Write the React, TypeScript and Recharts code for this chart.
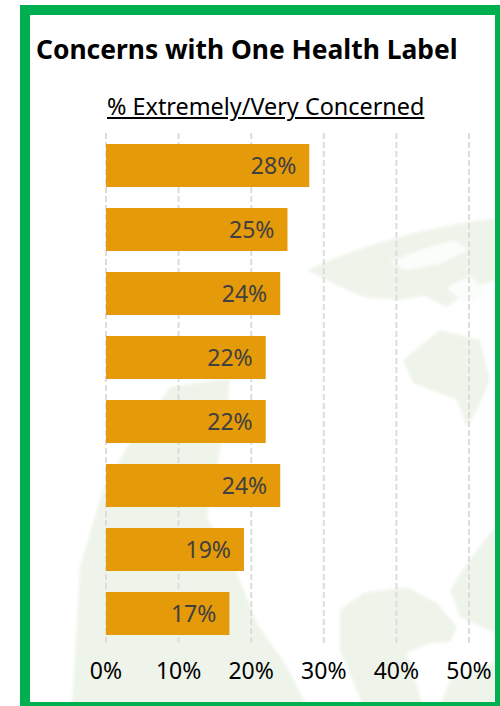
import React from "react";
import { BarChart, Bar, XAxis, YAxis, CartesianGrid, LabelList } from "recharts";

// one row per concern, top to bottom (the picture has no category labels)
const rows = ["a", "b", "c", "d", "e", "f", "g", "h"];
const concerned = [28, 25, 24, 22, 22, 24, 19, 17];
const xTicks = [0, 10, 20, 30, 40, 50];

const data = rows.map((row, i) => ({ row, concerned: concerned[i] }));

const FONT = "'Noto Sans', sans-serif";
const pct = (v: number) => `${v}%`;

// faint world map behind the chart
const Watermark = () => (
  <svg width={500} height={706} style={{ position: "absolute", left: 0, top: 0 }}>
    <defs>
      <filter id="soft">
        <feGaussianBlur stdDeviation="1.5" />
      </filter>
    </defs>
    <g fill="#eef4ea" filter="url(#soft)">
      <path d="M307 270 Q390 232 495 218 L495 280 L470 290 L447 307 L425 296 L400 300 L363 297 L330 282 Z" />
      <path d="M403 360 L440 330 L480 340 L490 380 L478 408 L467 427 L457 400 L413 383 Z" />
      <path d="M72 706 L80 567 L102 493 L127 447 L170 387 L230 378 L227 413 L217 467 L207 517 L237 573 L257 623 L287 667 L307 706 Z" />
      <path d="M340 610 L363 593 L407 587 L437 603 L457 627 L450 642 L430 643 L407 653 L423 706 L363 706 L340 650 Z" />
      <path d="M450 590 L467 563 L495 527 L495 633 L460 617 Z" />
      <path d="M450 680 L495 662 L495 706 L440 706 Z" />
    </g>
    <g fill="#fbfdfa" filter="url(#soft)">
      <path d="M390 262 L420 250 L455 240 L468 250 L440 264 L405 270 Z" />
      <path d="M446 288 L470 276 L488 292 L470 306 Z" />
    </g>
  </svg>
);

export default function App() {
  return (
    <div style={{ position: "absolute", left: 0, top: 0, width: 500, height: 706, overflow: "hidden", background: "#fff" }}>
      <Watermark />
      <div
        style={{
          position: "absolute",
          left: 20,
          top: 5,
          width: 465,
          height: 687,
          border: "10px solid #00b050",
          borderRightWidth: 5,
          borderBottomWidth: 4,
        }}
      />
      <div style={{ position: "absolute", left: 36, top: 31, fontFamily: FONT, fontWeight: 700, fontSize: 26.4, color: "#000", whiteSpace: "nowrap" }}>
        Concerns with One Health Label
      </div>
      <div style={{ position: "absolute", left: 107, top: 90, fontFamily: FONT, fontSize: 23.4, color: "#000", whiteSpace: "nowrap", textDecoration: "underline" }}>
        % Extremely/Very Concerned
      </div>
      <div style={{ position: "absolute", left: 0, top: 0 }}>
        <BarChart
          width={500}
          height={706}
          data={data}
          layout="vertical"
          margin={{ top: 133, right: 31, bottom: 31, left: 106 }}
          style={{ background: "transparent" }}
        >
          <CartesianGrid horizontal={false} stroke="#dcdcdc" strokeWidth={2} strokeDasharray="6 3" />
          <XAxis
            type="number"
            domain={[0, 50]}
            ticks={xTicks}
            tickFormatter={pct}
            axisLine={false}
            tickLine={false}
            tickMargin={12}
            interval={0}
            tick={{ fill: "#000", fontSize: 23, fontFamily: FONT }}
          />
          <YAxis type="category" dataKey="row" hide />
          <Bar dataKey="concerned" fill="#e59a09" barSize={43} isAnimationActive={false}>
            <LabelList
              dataKey="concerned"
              position="insideRight"
              offset={13}
              formatter={pct}
              style={{ fill: "#404040", fontSize: 23, fontFamily: FONT }}
            />
          </Bar>
        </BarChart>
      </div>
    </div>
  );
}
